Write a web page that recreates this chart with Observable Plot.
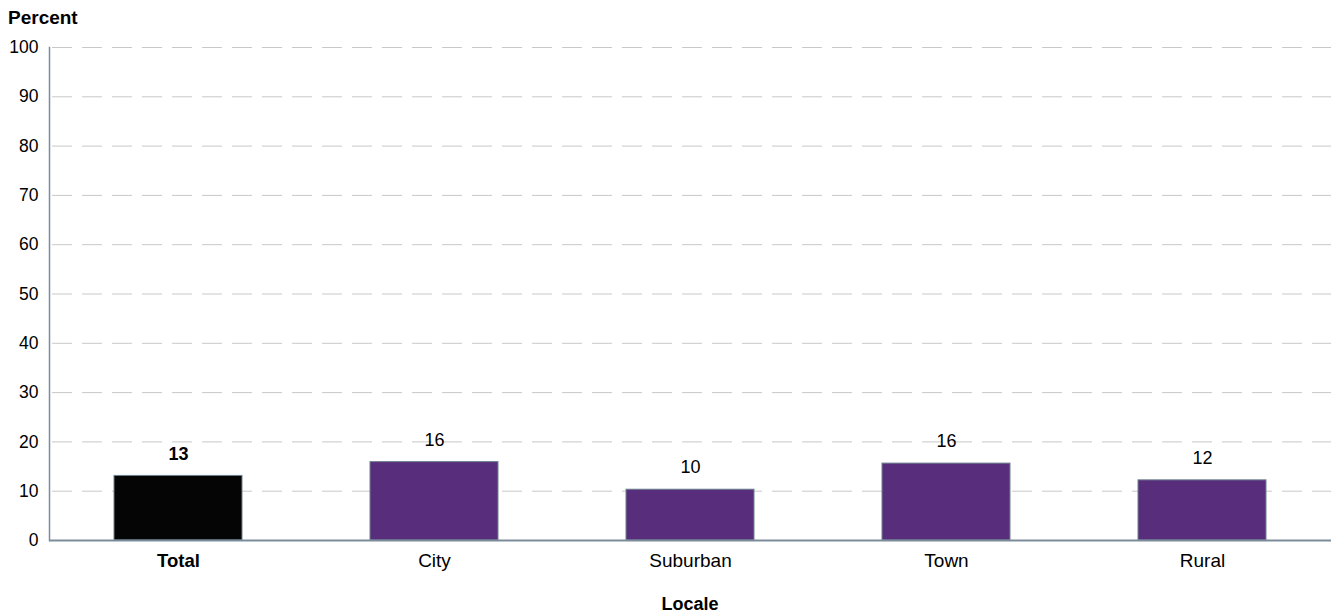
<!DOCTYPE html>
<html><head><meta charset="utf-8">
<script src="https://cdn.jsdelivr.net/npm/d3@7"></script>
<script src="https://cdn.jsdelivr.net/npm/@observablehq/plot@0.6"></script>
<style>
body{margin:0;background:#fff;font-family:"Liberation Sans",Arial,sans-serif;color:#000}
#ylabel{height:28px;box-sizing:border-box;padding:9px 0 0 8px;font-size:19px;font-weight:bold;line-height:18px}
#xlabel{width:1334px;height:32px;box-sizing:border-box;padding-top:14px;font-size:18px;font-weight:bold;line-height:18px;text-align:center;padding-left:46px}
#chart svg{display:block}
</style>
</head><body>
<div id="ylabel">Percent</div>
<div id="chart"></div>
<div id="xlabel">Locale</div>
<script>
const categories = ["Total", "City", "Suburban", "Town", "Rural"];
const values = [13.1, 15.9, 10.3, 15.6, 12.2];
const valueLabels = ["13", "16", "10", "16", "12"];
const yTicks = [0, 10, 20, 30, 40, 50, 60, 70, 80, 90, 100];

const data = categories.map((c, i) => ({locale: c, value: values[i], label: valueLabels[i], total: c === "Total"}));

const chart = Plot.plot({
  width: 1334,
  height: 553,
  marginTop: 19,
  marginBottom: 41,
  marginLeft: 49,
  marginRight: 3,
  style: {fontFamily: '"Liberation Sans", Arial, sans-serif', fontSize: "18px", color: "#000", background: "#fff"},
  x: {domain: categories, paddingInner: 0.5, paddingOuter: 0.25, label: null},
  y: {domain: [0, 100], label: null},
  marks: [
    Plot.gridY(yTicks.filter(d => d > 0), {stroke: "#c8c8c8", strokeOpacity: 1, strokeDasharray: "20,10", strokeDashoffset: -3}),
    Plot.barY(data, {x: "locale", y: "value", fill: d => d.total ? "#050505" : "#582e7c", stroke: "#6d8190", strokeWidth: 1}),
    Plot.text(data.filter(d => d.total), {x: "locale", y: "value", text: "label", dy: -22, fontWeight: "bold", fontSize: 18, fill: "#000"}),
    Plot.text(data.filter(d => !d.total), {x: "locale", y: "value", text: "label", dy: -22, fontSize: 18, fill: "#000"}),
    Plot.axisY({ticks: yTicks, tickSize: 0, tickPadding: 11, fontSize: 17.5, label: null}),
    Plot.axisX({ticks: ["Total"], tickSize: 0, tickPadding: 13, fontSize: 18.5, fontWeight: "bold", label: null}),
    Plot.axisX({ticks: categories.slice(1), tickSize: 0, tickPadding: 13, fontSize: 19, label: null}),
    Plot.frame({anchor: "left", stroke: "#7b8d9a", strokeWidth: 1.5}),
    Plot.ruleY([0], {stroke: "#7b8d9a", strokeWidth: 2})
  ]
});
document.getElementById("chart").appendChild(chart);
</script>
</body></html>
